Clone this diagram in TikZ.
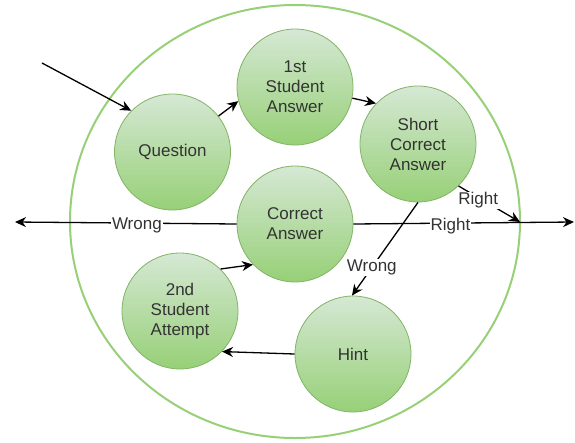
\documentclass[tikz,border=0pt]{standalone}
\usepackage{fontspec}
\setmainfont{Liberation Sans}
\usetikzlibrary{arrows.meta}
\definecolor{gfill1}{HTML}{D5E8D4}
\definecolor{gfill2}{HTML}{97D077}
\definecolor{gstroke}{HTML}{82B366}
\definecolor{outer}{HTML}{97D077}
\definecolor{txt}{HTML}{333333}
\tikzset{
  state/.style={circle, draw=gstroke, line width=0.8pt, top color=gfill1, bottom color=gfill2,
    minimum size=116pt, inner sep=0pt, align=center, text=txt,
    font=\fontsize{17}{20}\selectfont},
  conn/.style={draw=black, line width=1.3pt, -{Stealth[length=11pt,width=10pt]}},
  lbl/.style={fill=white, inner sep=1pt, text=txt, font=\fontsize{17}{20}\selectfont}
}
\begin{document}
\begin{tikzpicture}[x=1pt,y=-1pt]
\useasboundingbox (0,0) rectangle (575,442);
\draw[outer, line width=2pt] (295,221.5) ellipse [x radius=225, y radius=216.5];
\node[state] (q) at (172.5,152) {Question};
\node[state] (s1) at (295,87) {1st\\Student\\Answer};
\node[state] (sc) at (418,144) {Short\\Correct\\Answer};
\node[state] (ca) at (295,224) {Correct\\Answer};
\node[state] (a2) at (180,311) {2nd\\Student\\Attempt};
\node[state] (h) at (353,354) {Hint};
\coordinate (start) at (42,63);
\coordinate (junc) at (520,222);
\coordinate (outR) at (574,222);
\coordinate (outL) at (15,222);
\draw[conn] (start) -- (q.135);
\draw[conn] (q.38) -- (s1.194);
\draw[conn] (s1.-11) -- (sc.136);
\draw[conn] (sc.-46) -- node[lbl, pos=0.32, yshift=-3pt] {Right} (junc);
\draw[conn] (ca.0) -- node[lbl, pos=0.44, yshift=-3pt] {Right} (outR);
\draw[conn] (ca.180) -- node[lbl, pos=0.45, yshift=-2pt] {Wrong} (outL);
\draw[conn] (sc.270) -- node[lbl, pos=0.7] {Wrong} (h.91);
\draw[conn] (h.180) -- (a2.-44);
\draw[conn] (a2.46) -- (ca.224);
\end{tikzpicture}
\end{document}
